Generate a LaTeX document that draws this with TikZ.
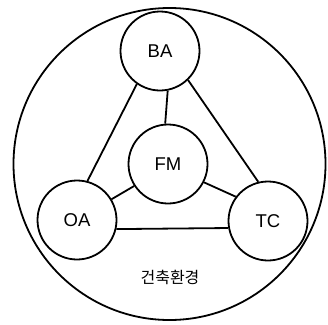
\documentclass[tikz,border=0pt]{standalone}
\usepackage{fontspec}
\setmainfont{Liberation Sans}
\newfontfamily\krfont{Noto Sans CJK KR}
\usepackage{tikz}

\begin{document}
\begin{tikzpicture}[x=1pt, y=-1pt, line width=1.8pt,
  part/.style={draw, circle, minimum size=79pt, inner sep=0pt, font=\fontsize{18.5}{20}\selectfont}]
\useasboundingbox (0,0) rectangle (328,324);
% environment circle
\draw (169.5,164) circle (156);
\node[font=\krfont\fontsize{16}{18}\selectfont] (env) at (170,277) {건축환경};
% the four parts
\node[part] (BA) at (160,51) {BA};
\node[part] (FM) at (168,164) {FM};
\node[part] (OA) at (77,220) {OA};
\node[part] (TC) at (268,221) {TC};
% links
\draw (BA.235) -- (OA.75);
\draw (BA.314) -- (TC.104);
\draw (BA.281) -- (FM.94);
\draw (FM.213) -- (OA.31);
\draw (FM.333) -- (TC.143);
\draw (OA.347) -- (TC.190);
\end{tikzpicture}
\end{document}
